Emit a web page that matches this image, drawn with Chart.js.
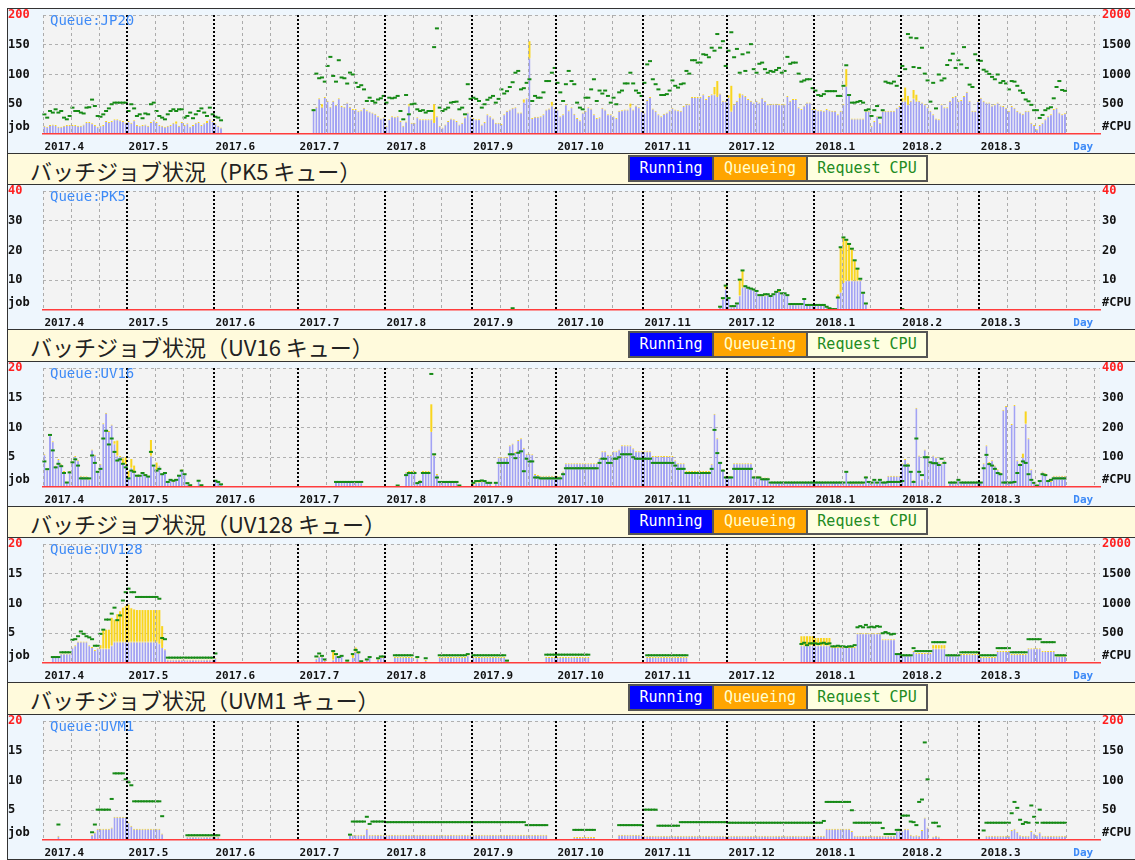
<!DOCTYPE html>
<html>
<head>
<meta charset="utf-8">
<script src="https://cdn.jsdelivr.net/npm/chart.js@4.4.1/dist/chart.umd.min.js"></script>
<style>
html, body { margin: 0; padding: 0; background: #fff; }
body { position: relative; width: 1135px; height: 860px; overflow: hidden; }
.panel { position: absolute; left: 7px; width: 1140px; height: 144px; border: 1px solid #333; background: #eef6fd; }
.panel canvas { position: absolute; left: 0; top: 0; }
.qname { position: absolute; left: 42px; top: 3px; font: 14px/16px "DejaVu Sans Mono", monospace; color: #3d8af7; }
.head { position: absolute; left: 7px; width: 1140px; background: #fffadc; border-left: 1px solid #333; }
.head .ttl { position: absolute; left: 22px; top: 1px; font: 22px/30px "Noto Sans CJK JP", "Noto Sans", sans-serif; color: #222; white-space: nowrap; }
.legend { position: absolute; left: 620px; top: 1px; display: flex; border: 2px solid #555; height: 23px; }
.legend span { display: block; font: 15px/23px "DejaVu Sans Mono", monospace; text-align: center; }
.legend span + span { border-left: 2px solid #555; }
</style>
</head>
<body>
<script>
// ---- data: one value per day, 2017-04-01 .. 2018-03-31 (jobs for bars, CPUs for the green marks)
const jp20Run = [
  14,12,15,16,15,12,12,14,15,15, 15,15,14,14,16,20,20,18,15,12, 14,15,22,20,22,25,25,23,22,19,
  22,19,23,15,14,15,16,14,20,23, 20,15,14,12,14,15,19,18,14,20, 15,18,12,15,19,20,15,18,20,25, 22,
  18,14,11,0,0,0,0,0,0,0, 0,0,0,0,0,0,0,0,0,0, 0,0,0,0,0,0,0,0,0,0,
  0,0,0,0,0,42,46,60,46,62, 56,46,56,49,60,47,46,53,46,42, 42,39,40,44,40,38,36,34,30,26, 28,
  14,25,30,29,30,22,14,21,48,19, 19,28,25,25,25,25,25,20,30,14, 11,16,22,26,25,22,16,19,28,36, 30,
  27,25,25,16,20,33,30,26,19,19, 17,33,39,41,44,45,36,36,54,60, 128,27,29,29,30,33,41,43,48,44,
  41,30,33,50,40,45,34,27,23,36, 39,45,43,33,27,28,44,41,33,33, 30,27,39,40,41,41,46,41,48,45, 39,
  36,57,62,43,39,33,30,34,36,40, 44,41,40,39,47,50,50,62,62,62, 62,67,59,64,67,67,64,68,56,56,
  62,39,50,56,62,67,64,59,56,53, 56,53,61,56,50,50,51,51,50,50, 50,64,56,59,59,45,42,48,53,53, 42,
  42,40,40,39,42,40,39,39,33,39, 50,81,67,26,26,26,26,26,39,39, 14,22,30,19,39,39,39,39,39,44, 47,
  56,56,50,56,60,56,56,53,50,45, 39,33,26,25,50,45,45,56,62,64, 56,57,64,71,56,39,39,56,
  61,56,53,53,48,50,53,48,47,44, 39,47,44,39,36,34,39,39,19,15, 8,15,19,25,30,33,42,44,36,33, 35
];
const jp20Queue = [
  0,0,0,0,0,0,0,0,0,0, 0,0,0,0,0,0,0,0,0,0, 0,0,0,0,0,0,0,0,0,0,
  0,0,0,0,0,0,0,0,0,0, 0,0,0,0,0,0,0,3,0,0, 0,0,0,0,0,0,0,0,2,0, 0,
  0,0,0,0,0,0,0,0,0,0, 0,0,0,0,0,0,0,0,0,0, 0,0,0,0,0,0,0,0,0,0,
  0,0,0,0,0,0,0,0,4,0, 0,0,0,0,0,0,0,0,0,0, 0,0,0,0,0,0,0,0,0,0, 0,
  0,0,0,0,0,0,0,0,2,0, 0,0,0,0,0,0,0,30,0,0, 0,0,0,0,0,0,0,0,0,0, 0,
  0,0,0,0,0,0,0,0,0,0, 0,0,0,0,0,0,0,0,4,0, 28,0,0,0,0,0,0,0,6,0,
  0,0,0,0,0,0,0,0,0,0, 0,0,0,0,0,0,0,0,0,0, 0,0,0,0,0,0,5,0,0,0, 0,
  0,0,0,0,0,0,0,0,0,0, 0,0,0,0,0,0,0,0,0,0, 0,0,0,0,0,12,25,0,0,0,
  3,42,0,0,6,0,0,0,0,0, 0,0,0,0,0,0,0,0,0,0, 0,0,0,0,0,0,0,0,0,0, 0,
  0,0,0,0,0,0,0,0,0,0, 0,28,0,0,0,0,0,0,0,0, 0,0,0,0,0,0,0,0,0,0, 0,
  4,22,14,0,14,10,0,0,0,0, 0,0,0,0,0,0,0,0,0,0, 0,0,0,0,0,0,0,0,
  0,0,0,0,0,0,0,0,0,0, 0,0,0,0,0,0,0,0,0,0, 0,0,0,0,0,0,0,0,0,0, 0
];
const jp20Cpu = [
  330,275,387,360,415,360,387,275,247,303, 443,387,387,360,345,443,450,578,470,303, 290,330,387,430,500,527,527,527,527,527,
  387,500,430,303,331,265,345,331,500,527, 387,303,275,247,331,387,415,387,415,415, 275,303,360,265,331,387,430,360,303,443, 331,
  290,275,230,0,0,0,0,0,0,0, 0,0,0,0,0,0,0,0,0,0, 0,0,0,0,0,0,0,0,0,0,
  0,0,0,0,0,400,1015,937,950,880, 1144,1296,976,880,1240,950,937,848,1032,1000, 860,790,820,750,555,610,555,527,580,600, 640,
  527,610,600,610,640,387,247,655,331,500, 510,415,387,400,360,387,387,1460,1775,443, 387,415,443,527,538,544,415,443,331,837, 590,
  610,590,555,443,500,575,610,640,527,590, 750,680,720,790,870,1030,1060,750,770,860, 920,555,640,610,610,700,890,890,1030,1110,
  860,700,555,837,1060,890,837,527,443,415, 610,610,750,920,555,730,680,730,640,527, 610,500,700,730,850,850,1030,850,730,690, 640,
  860,1170,1225,920,837,750,655,655,670,730, 900,810,780,837,850,1060,1015,1240,1240,1200, 1200,1340,1330,1290,1450,1400,1680,1450,1560,1144,
  1400,1710,1290,1430,1030,1340,1060,1370,1510,1090, 1030,1180,1200,1090,1030,1060,1045,1075,1110,1030, 1060,1296,1180,1200,1200,1015,880,900,920,920, 770,
  730,655,640,670,720,720,720,720,640,640, 810,1155,655,527,527,540,555,527,400,415, 303,400,470,275,400,880,860,850,880,810, 975,
  1144,1090,1680,1620,1125,1610,1110,1450,1015,900, 544,860,430,1000,900,935,1160,1240,1350,1110, 1240,1170,1460,1110,830,790,1340,1240,
  1230,1080,1050,1010,960,920,1000,860,890,850, 750,890,880,810,730,690,580,550,490,400, 400,270,320,400,430,450,600,790,890,740, 725
];

const pk5Run = [
  0,0,0,0,0,0,0,0,0,0, 0,0,0,0,0,0,0,0,0,0, 0,0,0,0,0,0,0,0,0,0,
  0,0,0,0,0,0,0,0,0,0, 0,0,0,0,0,0,0,0,0,0, 0,0,0,0,0,0,0,0,0,0, 0,
  0,0,0,0,0,0,0,0,0,0, 0,0,0,0,0,0,0,0,0,0, 0,0,0,0,0,0,0,0,0,0,
  0,0,0,0,0,0,0,0,0,0, 0,0,0,0,0,0,0,0,0,0, 0,0,0,0,0,0,0,0,0,0, 0,
  0,0,0,0,0,0,0,0,0,0, 0,0,0,0,0,0,0,0,0,0, 0,0,0,0,0,0,0,0,0,0, 0,
  0,0,0,0,0,0,0,0,0,0, 0,0,0,0,0,0,0,0,0,0, 0,0,0,0,0,0,0,0,0,0,
  0,0,0,0,0,0,0,0,0,0, 0,0,0,0,0,0,0,0,0,0, 0,0,0,0,0,0,0,0,0,0, 0,
  0,0,0,0,0,0,0,0,0,0, 0,0,0,0,0,0,0,0,0,0, 0,0,0,0,0,0,0,1.1,3.9,7.2,
  4,1.3,1.3,2.2,5,7.8,8,7.5,7.2,6.9, 6.4,5,5,5,5.3,4.7,5.3,6.1,6.4,5.6, 5.6,5,1.9,1.9,1.9,1.9,1.9,3.7,1.7,1.7, 1.7,
  1.7,1.7,1.7,1.7,1.1,0.6,0.3,0.3,4.2,6.1, 9.4,10,10,10,10,10,10,5.8,2.2,0, 0,0,0,0,0,0,0,0,0,0, 0,
  0,0,0,0,0,0,0,0,0,0, 0,0,0,0,0,0,0,0,0,0, 0,0,0,0,0,0,0,0,
  0,0,0,0,0,0,0,0,0,0, 0,0,0,0,0,0,0,0,0,0, 0,0,0,0,0,0,0,0,0,0, 0
];
const pk5Queue = [
  0,0,0,0,0,0,0,0,0,0, 0,0,0,0,0,0,0,0,0,0, 0,0,0,0,0,0,0,0,0,0,
  0,0,0,0,0,0,0,0,0,0, 0,0,0,0,0,0,0,0,0,0, 0,0,0,0,0,0,0,0,0,0, 0,
  0,0,0,0,0,0,0,0,0,0, 0,0,0,0,0,0,0,0,0,0, 0,0,0,0,0,0,0,0,0,0,
  0,0,0,0,0,0,0,0,0,0, 0,0,0,0,0,0,0,0,0,0, 0,0,0,0,0,0,0,0,0,0, 0,
  0,0,0,0,0,0,0,0,0,0, 0,0,0,0,0,0,0,0,0,0, 0,0,0,0,0,0,0,0,0,0, 0,
  0,0,0,0,0,0,0,0,0,0, 0,0,0,0,0,0,0,0,0,0, 0,0,0,0,0,0,0,0,0,0,
  0,0,0,0,0,0,0,0,0,0, 0,0,0,0,0,0,0,0,0,0, 0,0,0,0,0,0,0,0,0,0, 0,
  0,0,0,0,0,0,0,0,0,0, 0,0,0,0,0,0,0,0,0,0, 0,0,0,0,0,0,0,0,0,1.1,
  0,0,0,0,5.2,5.5,0,0,0,0, 0,0,0,0,0,0,0,0,0,0, 0,0,0,0,0,0,0,0,0,0, 0,
  0,0,0,0,0,0,0,0,1,15, 15,13.6,12.2,10.6,6.7,3.9,0,0,0,0, 0,0,0,0,0,0,0,0,0,0, 0,
  0,0,0,0,0,0,0,0,0,0, 0,0,0,0,0,0,0,0,0,0, 0,0,0,0,0,0,0,0,
  0,0,0,0,0,0,0,0,0,0, 0,0,0,0,0,0,0,0,0,0, 0,0,0,0,0,0,0,0,0,0, 0
];
const pk5Cpu = [
  0,0,0,0,0,0,0,0,0,0, 0,0,0,0,0,0,0,0,0,0, 0,0,0,0,0,0,0,0,0,0,
  0,0,0,0,0,0,0,0,0,0, 0,0,0,0,0,0,0,0,0,0, 0,0,0,0,0,0,0,0,0,0, 0,
  0,0,0,0,0,0,0,0,0,0, 0,0,0,0,0,0,0,0,0,0, 0,0,0,0,0,0,0,0,0,0,
  0,0,0,0,0,0,0,0,0,0, 0,0,0,0,0,0,0,0,0,0, 0,0,0,0,0,0,0,0,0,0, 0,
  0,0,0,0,0,0,0,0,0,0, 0,0,0,0,0,0,0,0,0,0, 0,0,0,0,0,0,0,0,0,0, 0,
  0,0,0,0,0,0,0,0,0,0, 0,0,0,0,0.6,0,0,0,0,0, 0,0,0,0,0,0,0,0,0,0,
  0,0,0,0,0,0,0,0,0,0, 0,0,0,0,0,0,0,0,0,0, 0,0,0,0,0,0,0,0,0,0, 0,
  0,0,0,0,0,0,0,0,0,0, 0,0,0,0,0,0,0,0,0,0, 0,0,0,0,0,0,0,1.1,4,8.2,
  4,1.3,1.3,2.2,10.2,13.3,8,7.5,7.2,6.9, 6.4,5,5,5.3,5.3,4.7,5.3,6.1,6.7,5.6, 5.6,5,2,2,2,2,2,3.7,1.7,1.7, 1.7,
  1.7,1.7,1.7,1.7,1.1,0.6,0.3,0.3,4.2,21.1, 24.4,23.6,22.2,20.6,16.7,13.9,10.5,5.8,2.2,0, 0,0,0,0,0,0,0,0,0,0, 0,
  0.3,0,0,0,0,0,0,0,0,0, 0,0,0,0,0,0,0,0,0,0, 0,0,0,0,0,0,0,0,
  0,0,0,0,0,0,0,0,0,0, 0,0,0,0,0,0,0,0,0,0, 0,0,0,0,0,0,0,0,0,0, 0
];

const uv16Run = [
  5.5,3,8.7,7.7,3.6,4.7,3.9,2.7,0.9,2.7, 4.3,5.2,4.5,1.9,1.8,1.8,1.3,6.3,5.4,2.7, 3.9,10.7,12.5,9.4,10.5,7.3,5.3,5.2,4.2,3.9,
  1.6,3.3,2.5,1.9,1.9,2.5,2.2,1.9,5.3,3.6, 3,3.6,2.2,2.5,0.9,1.3,1,1.3,2,3, 2.2,0.6,0.2,0,0,1.2,0.2,0,0,0, 0,
  1.2,1,0.5,0,0,0,0,0,0,0, 0,0,0,0,0,0,0,0,0,0, 0,0,0,0,0,0,0,0,0,0,
  0,0,0,0,0,0,0,0,0,0, 0,0,0,1,1,1,1,1,1,1, 0.8,1,0.8,0,0,0,0,0,0,0, 0,
  0,0,0,0,0.2,0,0,2.5,2.7,2.7, 2.7,0.9,1.2,2.7,2.7,2.7,9.4,5.4,2.2,0.9, 0.9,0.9,0.9,0.9,0.9,0.9,0.2,0,0,0, 0,
  0.5,0.8,0.8,1,1,0.8,0.8,0,0.9,5, 5,5,5,7,7.3,5.9,7.9,8.2,6.6,5.6, 5.6,5.5,2.2,2,1.9,1.9,1.9,1.9,1.9,1.9,
  1.9,1.9,2.6,4,4,4,4,4,4,4, 4,4,4,4,4,4.9,6,6,5.4,5.4, 6,6,6.3,7,7,7,7,6.5,6,6, 6,
  6,6,6,5.2,5.2,5.2,5.2,5.2,5.2,5.2, 5.2,4.5,4,4,4,2.7,2.7,2.7,2.7,2.7, 2.7,2.7,2.7,2.7,3.9,12.3,8.2,4.2,3,1.9,
  1.9,1.9,4,4,4,4,4,4,4,1.9, 1.9,1.9,1.6,1.6,1.6,0.9,0.9,0.9,0.9,0.9, 0.9,0.9,0.9,0.9,0.9,0.9,0.9,0.9,0.9,0.9, 0.9,
  0.9,0.9,0.9,0.9,0.9,0.9,0.9,0.9,0.9,0.9, 0.9,2.6,0.9,0.7,0.7,0.7,0.7,0.7,1.8,1, 0.7,1.3,0.7,1.4,0.9,0.9,1.9,1.9,1.9,1.9, 1.9,
  4,4.7,4,2.7,1.2,13.3,5.3,1.3,6.3,5.3, 4.2,5.3,5,4.3,4,4.5,0,0.9,0.9,0.9, 1.2,0.9,0.9,0.9,0.9,0.9,0.9,0.9,
  0.9,4,7,4.2,4.5,3.6,3,2.5,13,13.6, 0.9,10.6,13.8,4.5,4,5,10.7,8.2,3,0.7, 0.3,1,2.6,2.3,1.2,1,1.9,1.9,1.9,1.9, 1.9
];
const uv16Queue = [
  0,0,0,0,0,0,0,0,0,0, 0,0,0,0,0,0,0,0,0,0, 0,0,0,0,0,0.4,2.5,0,0.6,1.1,
  1.1,1.4,1.1,0,0,0,0,0,2.6,0, 1.1,0,0,0,0,0,0,0,0,0, 0,0,0,0,0,0,0,0,0,0, 0,
  0,0,0,0,0,0,0,0,0,0, 0,0,0,0,0,0,0,0,0,0, 0,0,0,0,0,0,0,0,0,0,
  0,0,0,0,0,0,0,0,0,0, 0,0,0,0,0,0,0,0,0,0, 0,0,0,0,0,0,0,0,0,0, 0,
  0,0,0,0,0,0,0,0,0,0, 0,0,0,0,0,0,4.5,0,0,0, 0,0,0,0,0,0,0,0,0,0, 0,
  0,0,0,0,0,0,0,0,0,0, 0,0,0,0,0,0,0,0,0,0, 0,0,0,0,0,0,0,0,0,0,
  0,0,0,0,0,0,0,0,0,0, 0,0,0,0,0,0,0,0,0,0, 0,0,0,0,0,0,0,0,0,0, 0,
  0,0,0,0,0,0,0,0,0,0, 0,0,0,0,0,0,0,0,0,0, 0,0,0,0,0,0,0,0,0,0,
  0,0,0,0,0,0,0,0,0,0, 0,0,0,0,0,0,0,0,0,0, 0,0,0,0,0,0,0,0,0,0, 0,
  0,0,0,0,0,0,0,0,0,0, 0,0,0,0,0,0,0,0,0,0, 0,0,0,0,0,0,0,0,0,0, 0,
  0,0,0,0,0,0,0,0,0,0, 0,0,0,0,0,0,0,0,0,0, 0,0,0,0,0,0,0,0,
  0,0,0,0,0,0,0,0,0,0, 0,0,0,0,0,0.6,2,0,0,0, 0,0,0,0,0,0,0,0,0,0, 0
];
const uv16Cpu = [
  86,60,175,123,66,78,70,47,15,49, 83,93,72,29,29,29,29,106,81,51, 61,163,189,143,163,118,89,93,78,66,
  29,55,51,38,38,47,40,35,118,72, 55,61,43,47,17,24,21,24,38,55, 43,13,6,0,0,21,6,0,0,0, 0,
  21,17,9,0,0,0,0,0,0,0, 0,0,0,0,0,0,0,0,0,0, 0,0,0,0,0,0,0,0,0,0,
  0,0,0,0,0,0,0,0,0,0, 0,0,0,17,17,17,17,17,17,17, 17,17,17,0,0,0,0,0,0,0, 0,
  0,0,0,0,5,0,0,40,47,47, 47,13,17,47,47,47,380,110,32,17, 17,17,17,17,17,17,5,0,0,0, 0,
  14,20,20,22,20,14,14,0,14,81, 81,81,81,110,110,97,115,120,53,95, 86,86,32,32,29,29,29,29,29,29,
  29,29,43,63,63,63,63,63,63,63, 63,63,63,63,63,81,95,95,81,81, 95,95,100,110,110,110,110,100,95,95, 95,
  95,95,95,81,81,81,81,81,81,81, 81,72,61,61,61,47,47,47,47,47, 47,47,47,47,61,192,114,81,55,32,
  32,32,61,61,61,61,61,61,61,32, 32,32,26,26,26,15,15,15,15,15, 15,15,15,15,15,15,15,15,15,15, 15,
  15,15,15,15,15,15,15,15,15,15, 15,51,15,15,15,15,15,15,32,17, 15,24,15,24,15,15,17,17,17,17, 17,
  20,72,72,51,17,163,51,40,100,100, 83,80,80,74,95,81,0,15,15,15, 24,15,15,15,15,15,15,15,
  15,63,108,77,72,61,47,43,15,15, 15,15,17,47,74,86,81,43,24,14, 5,20,43,40,20,24,29,29,29,29, 29
];

const uv128Run = [
  0,0,0,1,1,1,1.6,1.6,1.6,1.6, 2.6,3,3.6,3.6,3.6,3.6,3,2.7,2.2,2.5, 2.5,2.5,2.5,2.5,3,3.6,3.6,3.6,3.6,3.6,
  3.6,3.6,3.6,3.6,3.6,3.6,3.6,3.6,3.6,3.6, 3.6,3.3,2.7,2.3,0.6,0.6,0.6,0.6,0.6,0.6, 0.6,0.6,0.6,0.6,0.6,0.6,0.6,0.6,0.6,0.6, 0.6,
  0.9,0.2,0,0,0,0,0,0,0,0, 0,0,0,0,0,0,0,0,0,0, 0,0,0,0,0,0,0,0,0,0,
  0,0,0,0,0,0,0.7,1.1,1.1,0.5, 0,0,0.6,1.3,1,1.3,0,0.3,0,1, 1.9,1.7,0.3,0,0.6,1.1,0,0,0.7,1, 1,
  0,0,0,1,1,1,1,1,1,1, 0,0.8,0,0,0.5,0,0,0,0,1, 1,1,1,1,1,1,1,1,1,1.3, 0,
  1,1,1,1,1,1,1,1,1,1, 1,1,0.3,0,0,0,0,0,0,0, 0,0,0,0,0,0,1,1,1,1,
  1,1,1,1,1,1,1,1,1,1, 1,1,0,0,0,0,0,0,0,0, 0,0,0,0,0,0,0,0,0,0, 0,
  0,1,1,1,1,1,1,1,1,1, 1,1,1,1,1,1,0,0,0,0, 0,0,0,0,0,0,0,0,0,0,
  0,0,0,0,0,0,0,0,0,0, 0,0,0,0,0,0,0,0,0,0, 0,0,0,0,0,0,3,3,3,3, 3,
  3,3,3,3,3,3,2.7,2.7,2.7,2.7, 2.7,2.7,2.7,2.7,2.7,5,5,5,5,5, 5,5,5,5,4,4,4,4,4,1.5, 1.5,
  1.3,1.3,1.3,1.3,2,1.7,1.7,1.7,1.7,1.7, 1.7,2.5,2.5,2.5,2.5,2.5,1.3,1.3,1.3,1.3, 1.3,1.5,1.5,1.5,1.5,1.5,1.5,1.5,
  1,1,1,1,1,1,2,2,2,2, 2,1.5,1.5,1.5,1.5,1.5,1.5,2.5,2.5,2.5, 2.5,2.5,2,2,2,2,2,1.2,1.2,1.2, 1.2
];
const uv128Queue = [
  0,0,0,0,0,0,0,0,0,0, 0,0,0,0,0,0,0,0,0,0, 0.5,3,3.1,3.1,4.6,3.7,4.6,5.1,5.7,6,
  6.2,5.6,5.4,5.3,5.3,5.3,5.3,5.3,5.3,5.3, 5.3,5.6,3.5,0,0,0,0,0,0,0, 0,0,0,0,0,0,0,0,0,0, 0,
  0,0,0,0,0,0,0,0,0,0, 0,0,0,0,0,0,0,0,0,0, 0,0,0,0,0,0,0,0,0,0,
  0,0,0,0,0,0,0,0,0,0, 0,0,1.5,0,0,0,0,0,0,0.5, 0.7,0,0,0,0,0,0,0,0,0, 0,
  0,0,0,0,0,0,0,0,0,0, 0,0,0,0,0,0,0,0,0,0, 0,0,0,0,0,0,0,0,0,0, 0,
  0,0,0,0,0,0,0,0,0,0, 0,0,0,0,0,0,0,0,0,0, 0,0,0,0,0,0,0,0,0,0,
  0,0,0,0,0,0,0,0,0,0, 0,0,0,0,0,0,0,0,0,0, 0,0,0,0,0,0,0,0,0,0, 0,
  0,0,0,0,0,0,0,0,0,0, 0,0,0,0,0,0,0,0,0,0, 0,0,0,0,0,0,0,0,0,0,
  0,0,0,0,0,0,0,0,0,0, 0,0,0,0,0,0,0,0,0,0, 0,0,0,0,0,0,1.5,1.5,1.5,1.5, 1.5,
  1.2,1.2,1.2,1.2,1.2,1.2,0,0,0,0, 0,0,0,0,0,0,0,0,0,0, 0,0,0,0,0,0,0,0,0,0, 0,
  0,0,0,0,0,0,0,0,0,0, 0,0.5,0.5,0.5,0.5,0.5,0,0,0,0, 0,0,0,0,0,0,0,0,
  0,0,0,0,0,0,0,0,0,0, 0,0,0,0,0,0,0,0,0,0, 0,0,0,0,0,0,0,0,0,0, 0
];
const uv128Cpu = [
  0,0,0,100,100,100,180,180,180,180, 390,400,450,530,490,450,430,400,290,290, 490,560,730,730,830,930,720,800,1050,1190,
  1250,1190,1190,1110,1110,1110,1110,1110,1110,1110, 1110,1080,420,400,90,90,90,90,90,90, 90,90,90,90,90,90,90,90,90,90, 90,
  160,0,0,0,0,0,0,0,0,0, 0,0,0,0,0,0,0,0,0,0, 0,0,0,0,0,0,0,0,0,0,
  0,0,0,0,0,0,110,160,120,60, 0,0,200,150,100,120,0,40,0,150, 220,180,30,0,60,100,0,0,80,110, 110,
  0,0,0,130,130,130,130,130,130,130, 0,100,0,0,80,0,0,0,0,130, 130,130,130,130,130,130,130,130,130,150, 0,
  130,130,130,130,130,130,130,130,130,130, 130,130,40,0,0,0,0,0,0,0, 0,0,0,0,0,0,140,140,140,140,
  140,140,140,140,140,140,140,140,140,140, 140,140,0,0,0,0,0,0,0,0, 0,0,0,0,0,0,0,0,0,0, 0,
  0,130,130,130,130,130,130,130,130,130, 130,130,130,130,130,130,0,0,0,0, 0,0,0,0,0,0,0,0,0,0,
  0,0,0,0,0,0,0,0,0,0, 0,0,0,0,0,0,0,0,0,0, 0,0,0,0,0,0,320,340,300,330, 330,
  330,320,330,340,320,330,280,280,290,280, 280,270,280,280,300,600,620,600,640,600, 610,600,620,610,500,520,500,480,490,150, 150,
  130,130,130,130,250,200,200,200,200,200, 200,350,350,350,350,350,130,130,130,130, 130,180,180,180,180,180,180,180,
  130,130,130,130,130,130,250,250,250,250, 250,180,180,180,180,180,180,400,400,400, 400,400,350,350,350,350,350,130,130,130, 130
];

const uvm1Run = [
  0,0,0,0,0,0.7,0,0,0,0, 0,0,0,0,0,0,0,0.9,1.3,1.9, 1.9,1.9,1.9,1.9,2.1,3.9,3.9,3.9,3.9,3.9,
  3,2.4,1.9,1.9,1.9,1.9,1.9,1.9,1.9,1.9, 1.9,1.9,1.1,0,0,0,0,0,0,0, 0,0.6,0.6,0.6,0.6,0.6,0.6,0.6,0.6,0.6, 0.6,
  0.6,0.6,0.2,0,0,0,0,0,0,0, 0,0,0,0,0,0,0,0,0,0, 0,0,0,0,0,0,0,0,0,0,
  0,0,0,0,0,0,0,0,0,0, 0,0,0,0,0,0,0,0,0.9,0.9, 0.9,0.9,0.9,0.9,1.9,0.9,0.9,0.9,0.9,0.9, 0.9,
  0.9,0.9,0.9,0.9,0.9,0.9,0.9,0.9,0.9,0.9, 0.9,0.9,0.9,0.9,0.9,0.9,0.9,0.9,0.9,0.9, 0.9,0.9,0.9,0.9,0.9,0.9,0.9,0.9,0.9,0.9, 0.9,
  0.9,0.9,0.9,0.9,0.9,0.9,0.9,0.9,0.9,0.9, 0.9,0.9,0.9,0.9,0.9,0.9,0.9,0.9,0.9,0.9, 0.9,0.9,0.9,0.9,0.9,0.9,0.9,0,0,0,
  0,0,0,0,0,0,0.5,0.5,0.5,0.5, 0.5,0.5,0.5,0.5,0,0,0,0,0,0, 0,0,0.9,0.9,0.9,0.9,0.9,0.9,0.9,0.9, 0.9,
  0.7,0.7,0.7,0.7,0.7,0.7,0.7,0.7,0.7,0.7, 0.7,0.7,0.7,0.7,0.7,0.7,0.7,0.7,0.7,0.7, 0.7,0.7,0.7,0.7,0.7,0.7,0.7,0.7,0.7,0.7,
  0.7,0.7,0.7,0.7,0.7,0.7,0.7,0.7,0.7,0.7, 0.7,0.7,0.7,0.7,0.7,0.7,0.7,0.7,0.7,0.7, 0.7,0.7,0.7,0.7,0.7,0.7,0.7,0.7,0.7,0.7, 0.7,
  0.7,0.7,0.7,0.7,1.9,1.9,1.9,1.9,1.9,1.9, 1.9,1.9,1.9,1.5,0.7,0.7,0.7,0.7,0.7,0.7, 0.7,0.7,0.7,0.7,0.7,0.7,0.7,0.7,0.7,1.6, 1.6,
  1.6,1.9,1.8,0.9,0.7,0.8,0.7,1.7,3.8,2.1, 0.1,0.6,0.7,0.6,0.2,0,0,0,0,0, 0,0,0,0,0,0,0,0,
  0,0,0.7,0.7,0.7,0.7,0.7,0.7,0.7,0.7, 0.7,1.7,1.9,1.4,0.8,0.7,0.7,0.7,1.5,1.1, 0.8,1.3,0.7,0.7,0.7,0.7,0.7,0.7,0.7,0.7, 0.7
];
const uvm1Queue = [
  0,0,0,0,0,0,0,0,0,0, 0,0,0,0,0,0,0,0,0,0, 0,0,0,0,0,0,0,0,0,0,
  0,0,0,0,0,0,0,0,0,0, 0,0,0,0,0,0,0,0,0,0, 0,0,0,0,0,0,0,0,0,0, 0,
  0,0,0,0,0,0,0,0,0,0, 0,0,0,0,0,0,0,0,0,0, 0,0,0,0,0,0,0,0,0,0,
  0,0,0,0,0,0,0,0,0,0, 0,0,0,0,0,0,0,0,0,0, 0,0,0,0,0,0,0,0,0,0, 0,
  0,0,0,0,0,0,0,0,0,0, 0,0,0,0,0,0,0,0,0,0, 0,0,0,0,0,0,0,0,0,0, 0,
  0,0,0,0,0,0,0,0,0,0, 0,0,0,0,0,0,0,0,0,0, 0,0,0,0,0,0,0,0,0,0,
  0,0,0,0,0,0,0,0,0,0, 0,0,0,0,0,0,0,0,0,0, 0,0,0,0,0,0,0,0,0,0, 0,
  0,0,0,0,0,0,0,0,0,0, 0,0,0,0,0,0,0,0,0,0, 0,0,0,0,0,0,0,0,0,0,
  0,0,0,0,0,0,0,0,0,0, 0,0,0,0,0,0,0,0,0,0, 0,0,0,0,0,0,0,0,0,0, 0,
  0,0,0,0,0,0,0,0,0,0, 0,0,0,0,0,0,0,0,0,0, 0,0,0,0,0,0,0,0,0,0, 0,
  0,0,0,0,0,0,0,0,0,0, 0,0,0,0,0,0,0,0,0,0, 0,0,0,0,0,0,0,0,
  0,0,0,0,0,0,0,0,0,0, 0,0,0,0,0,0,0,0,0,0, 0,0,0,0,0,0,0,0,0,0, 0
];
const uvm1Cpu = [
  0,0,0,0,0,26,0,0,0,0, 0,0,0,0,0,0,0,13,26,51, 51,51,51,51,69,112,112,112,112,102,
  97,92,65,65,65,65,65,65,65,65, 65,65,40,0,0,0,0,0,0,0, 0,8,8,8,8,8,8,8,8,8, 8,
  8,8,0,0,0,0,0,0,0,0, 0,0,0,0,0,0,0,0,0,0, 0,0,0,0,0,0,0,0,0,0,
  0,0,0,0,0,0,0,0,0,0, 0,0,0,0,0,0,0,0,9,31, 31,31,31,31,39,27,31,31,31,31, 31,
  30,30,30,30,30,30,30,30,30,30, 30,30,30,30,30,30,30,30,30,30, 30,30,30,30,30,30,30,30,30,30, 30,
  30,30,30,30,30,30,30,30,30,30, 30,30,30,30,30,30,30,30,30,25, 25,25,25,25,25,25,25,0,0,0,
  0,0,0,0,0,0,17,17,17,17, 17,17,17,17,0,0,0,0,0,0, 0,0,25,25,25,25,25,25,25,25, 25,
  51,51,51,51,51,24,24,24,24,24, 24,24,24,30,30,30,30,30,30,30, 30,30,30,30,30,30,30,30,30,30,
  29,29,29,29,29,29,29,29,29,29, 29,29,29,29,29,29,29,29,29,29, 29,29,29,29,29,29,29,29,29,29, 29,
  29,29,29,32,64,64,64,64,64,64, 64,64,64,50,29,29,29,29,29,29, 29,29,29,29,20,10,10,10,10,17, 17,
  41,41,41,31,30,25,64,68,164,102, 0,29,29,23,0,0,0,0,0,0, 0,0,0,0,0,0,0,0,
  0,16,29,29,29,29,29,29,29,29, 29,45,64,54,34,27,30,29,58,39, 29,51,29,29,29,29,29,29,29,29, 29
];

// ---- axis categories and labels
const monthLabels = ['2017.4','2017.5','2017.6','2017.7','2017.8','2017.9','2017.10','2017.11','2017.12','2018.1','2018.2','2018.3'];
const dataDays = 365;
const axisDays = 377;            // the axis runs on a few days past the last sample
const dayTagIndex = 367;         // where the "Day" caption sits
const days = [];
for (let i = 0; i < axisDays; i++) days.push(new Date(2017, 3, 1 + i));
const dayLabels = days.map(d => d.getFullYear() + '-' + (d.getMonth() + 1) + '-' + d.getDate());

const panels = [
  {name: 'JP20',  run: jp20Run,  queue: jp20Queue,  cpu: jp20Cpu,  yMax: 200, yStep: 50, cMax: 2000, cStep: 500},
  {name: 'PK5',   run: pk5Run,   queue: pk5Queue,   cpu: pk5Cpu,   yMax: 40,  yStep: 10, cMax: 40,   cStep: 10},
  {name: 'UV16',  run: uv16Run,  queue: uv16Queue,  cpu: uv16Cpu,  yMax: 20,  yStep: 5,  cMax: 400,  cStep: 100},
  {name: 'UV128', run: uv128Run, queue: uv128Queue, cpu: uv128Cpu, yMax: 20,  yStep: 5,  cMax: 2000, cStep: 500},
  {name: 'UVM1',  run: uvm1Run,  queue: uvm1Queue,  cpu: uvm1Cpu,  yMax: 20,  yStep: 5,  cMax: 200,  cStep: 50}
];

const panelTops = [8, 184, 361, 537, 714];
const runColor = '#a2a2f4';
const queueColor = '#f9d51e';
const cpuColor = '#168a16';
const tickFont = {family: 'DejaVu Sans Mono', size: 12, weight: 'bold'};

function monthTick(i) {
  if (i === dayTagIndex) return 'Day';
  const d = days[i];
  if (!d || i >= dataDays || d.getDate() !== 1) return '';
  return monthLabels[(d.getFullYear() - 2017) * 12 + d.getMonth() - 3];
}
function monthLine(c) {
  const d = days[c.index];
  if (c.index === undefined || !d) return 'rgba(0,0,0,0)';
  return (d.getDate() === 1 && c.index > 0 && c.index < dataDays) ? '#000' : 'rgba(0,0,0,0)';
}
function minorLine(c) {
  const d = days[c.index];
  if (c.index === undefined || !d) return 'rgba(0,0,0,0)';
  const dd = d.getDate();
  if (dd === 11 || dd === 21 || c.index === 0 || c.index === dataDays) return '#ababab';
  return 'rgba(0,0,0,0)';
}

const plotBg = {
  id: 'plotBg',
  beforeDraw(chart) {
    const {ctx, chartArea: a} = chart;
    ctx.save();
    ctx.fillStyle = '#f3f3f3';
    ctx.fillRect(a.left, a.top, a.right - a.left, a.bottom - a.top);
    ctx.restore();
  }
};

const titles = ['バッチジョブ状況（PK5 キュー）', 'バッチジョブ状況（UV16 キュー）', 'バッチジョブ状況（UV128 キュー）', 'バッチジョブ状況（UVM1 キュー）'];

panels.forEach((p, k) => {
  const box = document.createElement('div');
  box.className = 'panel';
  box.style.top = panelTops[k] + 'px';
  const cv = document.createElement('canvas');
  cv.width = 1127; cv.height = 144;
  box.appendChild(cv);
  const q = document.createElement('div');
  q.className = 'qname';
  q.textContent = 'Queue:' + p.name;
  box.appendChild(q);
  document.body.appendChild(box);

  if (k < titles.length) {
    const h = document.createElement('div');
    h.className = 'head';
    const top = panelTops[k] + 146;
    h.style.top = top + 'px';
    h.style.height = (panelTops[k + 1] - top) + 'px';
    h.innerHTML = '<div class="ttl">' + titles[k] + '</div>' +
      '<div class="legend">' +
      '<span style="width:82px;background:#0000ff;color:#fff">Running</span>' +
      '<span style="width:92px;background:#ffa500;color:#ffffd0">Queueing</span>' +
      '<span style="width:118px;background:#ffffe0;color:#228b22">Request CPU</span>' +
      '</div>';
    document.body.appendChild(h);
  }

  new Chart(cv.getContext('2d'), {
    type: 'bar',
    data: {
      labels: dayLabels,
      datasets: [
        {type: 'line', label: 'Request CPU', data: p.cpu.map(v => v || null), yAxisID: 'y2', xAxisID: 'x',
         showLine: false, pointStyle: 'line', pointRadius: 2, pointBorderWidth: 2,
         pointBorderColor: cpuColor, borderColor: cpuColor, order: 0},
        {label: 'Running', data: p.run.map(v => v || null), yAxisID: 'y', xAxisID: 'x', stack: 'jobs',
         backgroundColor: runColor, borderColor: queueColor, borderWidth: {top: 1, left: 0, right: 0, bottom: 0},
         borderSkipped: 'start', barPercentage: 0.72, categoryPercentage: 1, order: 1},
        {label: 'Queueing', data: p.queue.map(v => v || null), yAxisID: 'y', xAxisID: 'x', stack: 'jobs',
         backgroundColor: queueColor, borderWidth: 0, barPercentage: 0.72, categoryPercentage: 1, order: 1}
      ]
    },
    options: {
      responsive: false,
      animation: false,
      devicePixelRatio: 1,
      events: [],
      layout: {padding: {top: 5, left: 0, right: 0, bottom: 0}},
      plugins: {legend: {display: false}, tooltip: {enabled: false}},
      scales: {
        x: {
          type: 'category', position: 'bottom', stacked: true, offset: true,
          grid: {offset: true, drawTicks: false, z: 1, lineWidth: 2, color: monthLine},
          border: {display: true, color: '#ff3c3c', width: 1.5, dash: [2, 2], z: 1},
          ticks: {autoSkip: false, maxRotation: 0, minRotation: 0, align: 'start', padding: 7,
                  font: {family: 'DejaVu Sans Mono', size: 11, weight: 'bold'},
                  color: c => c.index === dayTagIndex ? '#3d8af7' : '#111',
                  callback: (v, i) => monthTick(i)},
          afterFit: s => { s.height = 19; s.paddingLeft = 0; s.paddingRight = 0; }
        },
        xg: {
          type: 'category', position: 'bottom', offset: true,
          grid: {offset: true, drawTicks: false, z: 1, lineWidth: 1, color: minorLine},
          border: {display: false, dash: [3, 3]},
          ticks: {display: false, autoSkip: false},
          afterFit: s => { s.height = 0; s.paddingLeft = 0; s.paddingRight = 0; }
        },
        y: {
          position: 'left', stacked: true, min: 0, max: p.yMax,
          ticks: {stepSize: p.yStep, autoSkip: false, crossAlign: 'far', font: tickFont,
                  color: c => c.tick.value === p.yMax ? '#ff2020' : '#111',
                  callback: v => v === 0 ? ['job', ''] : v},
          grid: {drawTicks: false, lineWidth: 1, color: c => (c.tick && c.tick.value === 0) ? 'rgba(0,0,0,0)' : '#b0b0b0'},
          border: {display: false, dash: [3, 3]},
          afterFit: s => { s.width = 35; s.paddingTop = 0; s.paddingBottom = 0; }
        },
        y2: {
          position: 'right', min: 0, max: p.cMax,
          ticks: {stepSize: p.cStep, autoSkip: false, crossAlign: 'near', padding: 2, font: tickFont,
                  color: c => c.tick.value === p.cMax ? '#ff2020' : '#111',
                  callback: v => v === 0 ? ['#CPU', ''] : v},
          grid: {display: false, drawTicks: false},
          border: {display: false},
          afterFit: s => { s.width = 35; s.paddingTop = 0; s.paddingBottom = 0; }
        }
      }
    },
    plugins: [plotBg]
  });
});
</script>
</body>
</html>
